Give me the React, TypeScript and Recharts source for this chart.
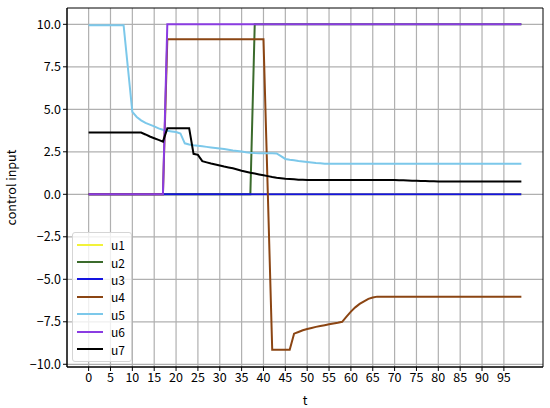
import { CartesianGrid, Legend, Line, LineChart, ReferenceArea, XAxis, YAxis } from "recharts"

// time steps 0..99
const t: number[] = Array.from({ length: 100 }, (_, i) => i)

const u1: number[] = t.map(() => 0)

const u2: number[] = t.map((i) => (i < 38 ? 0 : 10))

const u3: number[] = t.map(() => 0)

const u4: number[] = [
  0, 0, 0, 0, 0, 0, 0, 0, 0, 0,
  0, 0, 0, 0, 0, 0, 0, 0, 9.12, 9.12,
  9.12, 9.12, 9.12, 9.12, 9.12, 9.12, 9.12, 9.12, 9.12, 9.12,
  9.12, 9.12, 9.12, 9.12, 9.12, 9.12, 9.12, 9.12, 9.12, 9.12,
  9.12, 0, -9.15, -9.15, -9.15, -9.15, -9.15, -8.2, -8.1, -8.0,
  -7.92, -7.86, -7.8, -7.75, -7.7, -7.65, -7.6, -7.56, -7.5, -7.2,
  -6.9, -6.65, -6.45, -6.3, -6.15, -6.07, -6.02, -6.02, -6.02, -6.02,
  -6.02, -6.02, -6.02, -6.02, -6.02, -6.02, -6.02, -6.02, -6.02, -6.02,
  -6.02, -6.02, -6.02, -6.02, -6.02, -6.02, -6.02, -6.02, -6.02, -6.02,
  -6.02, -6.02, -6.02, -6.02, -6.02, -6.02, -6.02, -6.02, -6.02, -6.02,
]

const u5: number[] = [
  9.95, 9.95, 9.95, 9.95, 9.95, 9.95, 9.95, 9.95, 9.95, 7.4,
  4.85, 4.55, 4.35, 4.2, 4.1, 4.0, 3.88, 3.8, 3.74, 3.7,
  3.66, 3.58, 3.0, 2.93, 2.88, 2.85, 2.82, 2.79, 2.76, 2.73,
  2.7, 2.66, 2.62, 2.58, 2.55, 2.52, 2.48, 2.45, 2.43, 2.42,
  2.42, 2.42, 2.42, 2.4, 2.25, 2.08, 2.03, 2.0, 1.96, 1.93,
  1.9, 1.87, 1.84, 1.82, 1.8, 1.79, 1.79, 1.79, 1.79, 1.79,
  1.79, 1.79, 1.79, 1.79, 1.79, 1.79, 1.79, 1.79, 1.79, 1.79,
  1.79, 1.79, 1.79, 1.79, 1.79, 1.79, 1.79, 1.79, 1.79, 1.79,
  1.79, 1.79, 1.79, 1.79, 1.79, 1.79, 1.79, 1.79, 1.79, 1.79,
  1.79, 1.79, 1.79, 1.79, 1.79, 1.79, 1.79, 1.79, 1.79, 1.79,
]

const u6: number[] = t.map((i) => (i < 18 ? 0 : 10))

const u7: number[] = [
  3.63, 3.63, 3.63, 3.63, 3.63, 3.63, 3.63, 3.63, 3.63, 3.63,
  3.63, 3.63, 3.63, 3.52, 3.4, 3.3, 3.2, 3.1, 3.88, 3.88,
  3.88, 3.88, 3.88, 3.88, 2.38, 2.32, 1.95, 1.88, 1.81, 1.75,
  1.69, 1.63, 1.58, 1.53, 1.46, 1.39, 1.33, 1.27, 1.22, 1.17,
  1.12, 1.07, 1.02, 0.98, 0.95, 0.92, 0.9, 0.88, 0.86, 0.85,
  0.84, 0.84, 0.84, 0.84, 0.84, 0.84, 0.84, 0.84, 0.84, 0.84,
  0.84, 0.84, 0.84, 0.84, 0.84, 0.84, 0.84, 0.84, 0.84, 0.84,
  0.84, 0.83, 0.82, 0.81, 0.8, 0.79, 0.78, 0.78, 0.77, 0.77,
  0.76, 0.76, 0.75, 0.75, 0.75, 0.75, 0.75, 0.75, 0.75, 0.75,
  0.75, 0.75, 0.75, 0.75, 0.75, 0.75, 0.75, 0.75, 0.75, 0.75,
]

const xTicks: number[] = [0, 5, 10, 15, 20, 25, 30, 35, 40, 45, 50, 55, 60, 65, 70, 75, 80, 85, 90, 95]
const yTicks: number[] = [-10, -7.5, -5, -2.5, 0, 2.5, 5, 7.5, 10]

const seriesNames = ["u1", "u2", "u3", "u4", "u5", "u6", "u7"]
const seriesValues = [u1, u2, u3, u4, u5, u6, u7]
const seriesColors = ["#f2f23a", "#3b6b2c", "#1414e0", "#8b4513", "#7cc8ea", "#8a3ce2", "#000000"]

const xDomain: [number, number] = [-4.95, 103.95]
const yDomain: [number, number] = [-10.16, 10.96]

const data = t.map((ti, i) => {
  const row: Record<string, number> = { t: ti }
  seriesNames.forEach((name, k) => {
    row[name] = seriesValues[k][i]
  })
  return row
})

const font = "'Noto Sans CJK JP', 'Noto Sans', sans-serif"
const fmt = (v: number) => v.toFixed(1).replace("-", "\u2212")

const LegendBox = () => (
  <div
    style={{
      background: "rgba(255,255,255,0.8)",
      border: "1px solid #d5d5d5",
      borderRadius: 3,
      padding: "3px 6px 3px 4px",
      fontFamily: font,
      fontSize: 12,
      width: 48,
    }}
  >
    {seriesNames.map((name, k) => (
      <div key={name} style={{ display: "flex", alignItems: "center", height: 17.4 }}>
        <div style={{ width: 27, height: 2, background: seriesColors[k], marginRight: 8 }} />
        <span>{name}</span>
      </div>
    ))}
  </div>
)

const App = () => {
  return (
    <div style={{ position: "absolute", left: 0, top: 0, background: "#fff" }}>
      <LineChart
        width={550}
        height={408}
        data={data}
        margin={{ top: 8, right: 7, left: 0, bottom: 0 }}
        style={{ fontFamily: font }}
      >
        <CartesianGrid stroke="#b0b0b0" strokeWidth={1.2} verticalValues={xTicks} horizontalValues={yTicks} />
        <XAxis
          dataKey="t"
          type="number"
          domain={xDomain}
          allowDataOverflow
          ticks={xTicks}
          interval={0}
          height={41}
          tickSize={4}
          stroke="#000"
          tick={{ fill: "#000", fontSize: 12.5 }}
          label={{ value: "t", position: "insideBottom", offset: 3, fill: "#000", fontSize: 12.5 }}
        />
        <YAxis
          type="number"
          domain={yDomain}
          allowDataOverflow
          ticks={yTicks}
          interval={0}
          width={67}
          tickSize={4}
          stroke="#000"
          tickFormatter={fmt}
          tick={{ fill: "#000", fontSize: 12.5 }}
          label={{ value: "control input", angle: -90, position: "insideLeft", offset: 12, fill: "#000", fontSize: 12.5, style: { textAnchor: "middle" } }}
        />
        {seriesNames.map((name, k) => (
          <Line
            key={name}
            type="linear"
            dataKey={name}
            stroke={seriesColors[k]}
            strokeWidth={2}
            dot={false}
            activeDot={false}
            isAnimationActive={false}
          />
        ))}
        <ReferenceArea
          x1={xDomain[0]}
          x2={xDomain[1]}
          y1={yDomain[0]}
          y2={yDomain[1]}
          fill="none"
          stroke="#000"
          strokeWidth={1}
          ifOverflow="visible"
        />
        <Legend
          layout="horizontal"
          verticalAlign="middle"
          align="center"
          wrapperStyle={{ left: 72, top: 232, width: "auto" }}
          content={() => <LegendBox />}
        />
      </LineChart>
    </div>
  )
}

export default App
